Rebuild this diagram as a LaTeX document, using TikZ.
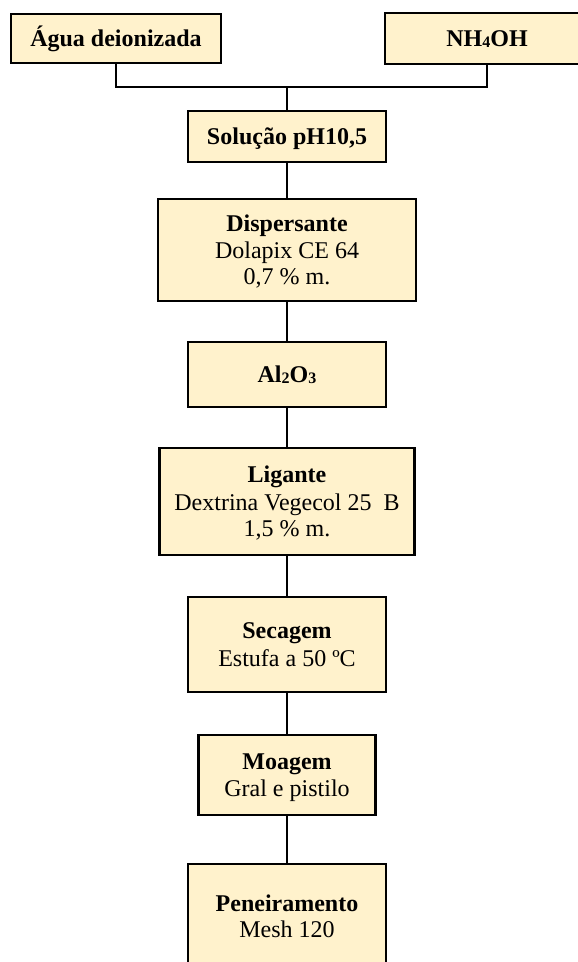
\documentclass[tikz,border=0pt]{standalone}
\usepackage{fontspec}
\setmainfont{Liberation Serif}
\definecolor{boxfill}{RGB}{255,242,204}
% small lowered digit for chemical formulas
\newcommand{\chemidx}[1]{\raisebox{-1.2pt}{\fontsize{16}{16}\selectfont #1}}
% fixed line box (font ascent + descent) so every line has the same height
\newcommand{\linestrut}{\rule[-5.2pt]{0pt}{26.6pt}}
\begin{document}
\begin{tikzpicture}[x=1pt,y=-1pt,
  stage/.style={draw=black, line width=2.3pt, fill=boxfill, inner sep=0pt,
    align=center, text=black, font=\fontsize{24}{26.6}\selectfont},
  link/.style={draw=black, line width=2.3pt}]
\clip (0,0) rectangle (578,962);
\useasboundingbox (0,0) rectangle (578,962);

% inputs
\node[stage, minimum width=210pt, minimum height=49pt] (agua) at (116,38.5)
  {\linestrut\textbf{Água deionizada}};
\node[stage, minimum width=204pt, minimum height=51pt] (nh) at (487,38.5)
  {\linestrut\textbf{NH\chemidx{4}OH}};

% process chain
\node[stage, minimum width=198pt, minimum height=51pt] (sol) at (287,136.5)
  {\linestrut\textbf{Solução pH10,5}};
\node[stage, minimum width=258pt, minimum height=102pt] (disp) at (287,250)
  {\linestrut\textbf{Dispersante}\\\linestrut Dolapix CE 64\\\linestrut 0,7 \% m.};
\node[stage, minimum width=198pt, minimum height=65pt] (alu) at (287,374.5)
  {\linestrut\textbf{Al\chemidx{2}O\chemidx{3}}};
\node[stage, minimum width=255pt, minimum height=107pt] (lig) at (287,501.5)
  {\linestrut\textbf{Ligante}\\\linestrut Dextrina Vegecol 25\ \ B\\\linestrut 1,5 \% m.};
\node[stage, minimum width=198pt, minimum height=95pt] (sec) at (287,644.5)
  {\linestrut\textbf{Secagem}\\\linestrut Estufa a 50 ºC};
\node[stage, minimum width=177pt, minimum height=80pt] (moa) at (287,775)
  {\linestrut\textbf{Moagem}\\\linestrut Gral e pistilo};
\node[stage, minimum width=198pt, minimum height=105pt] (pen) at (287,916.5)
  {\linestrut\textbf{Peneiramento}\\\linestrut Mesh 120};

% connectors
\coordinate (bus) at (287,87);
\draw[link] (agua.south) |- (bus) -| (nh.south);
\draw[link] (bus) -- (sol.north);
\draw[link] (sol) -- (disp);
\draw[link] (disp) -- (alu);
\draw[link] (alu) -- (lig);
\draw[link] (lig) -- (sec);
\draw[link] (sec) -- (moa);
\draw[link] (moa) -- (pen);
\end{tikzpicture}
\end{document}
